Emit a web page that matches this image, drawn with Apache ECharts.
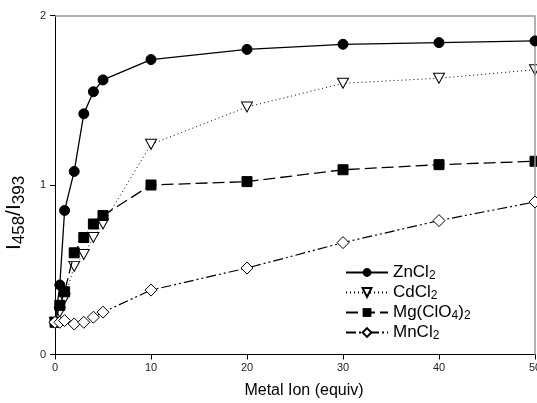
<!DOCTYPE html>
<html>
<head>
<meta charset="utf-8">
<script src="https://cdn.jsdelivr.net/npm/echarts@6/dist/echarts.min.js"></script>
<style>
  html, body { margin: 0; padding: 0; background: #fff; }
  #chart { width: 537px; height: 403px; }
</style>
</head>
<body>
<div id="chart"></div>
<script>
// metal ion equivalents
const equiv = [0, 0.5, 1, 2, 3, 4, 5, 10, 20, 30, 40, 50];
// I458/I393 ratios
const znCl2 = [0.19, 0.41, 0.85, 1.08, 1.42, 1.55, 1.62, 1.74, 1.80, 1.83, 1.84, 1.85];
const cdCl2 = [0.19, 0.25, 0.33, 0.52, 0.59, 0.69, 0.77, 1.24, 1.46, 1.60, 1.63, 1.68];
const mgClO4 = [0.19, 0.29, 0.37, 0.60, 0.69, 0.77, 0.82, 1.00, 1.02, 1.09, 1.12, 1.14];
const mnCl2 = [0.19, 0.19, 0.20, 0.18, 0.19, 0.22, 0.25, 0.38, 0.51, 0.66, 0.79, 0.90];
const xTicks = [0, 10, 20, 30, 40, 50];
const yTicks = [0, 1, 2];

const names = ['ZnCl2', 'CdCl2', 'Mg(ClO4)2', 'MnCl2'];
const legendLabels = {
    'ZnCl2': 'ZnCl{s|2}',
    'CdCl2': 'CdCl{s|2}',
    'Mg(ClO4)2': 'Mg(ClO{s|4}){s|2}',
    'MnCl2': 'MnCl{s|2}'
};

const pairs = (ys) => equiv.map((x, i) => [x, ys[i]]);

const font = 'Liberation Sans, Arial, sans-serif';

const chart = echarts.init(document.getElementById('chart'));

const option = {
    animation: false,
    backgroundColor: '#fff',
    grid: { left: 55, right: 2, top: 15.5, bottom: 48.5, outerBoundsMode: 'none', containLabel: false },
    xAxis: {
        type: 'value',
        min: 0, max: 50, interval: 10,
        name: 'Metal Ion (equiv)',
        nameLocation: 'middle',
        nameGap: 28,
        nameTextStyle: { fontFamily: font, fontSize: 16, color: '#000', padding: [0, 0, 0, 18] },
        axisLine: { onZero: false, lineStyle: { color: '#000', width: 1 } },
        axisTick: { show: true, length: 5, lineStyle: { color: '#000' } },
        axisLabel: { fontFamily: font, fontSize: 11, color: '#222', margin: 8,
            formatter: v => xTicks.includes(v) ? String(v) : '' },
        splitLine: { show: false }
    },
    yAxis: {
        type: 'value',
        min: 0, max: 2, interval: 1,
        name: '{a|I}{s|458}{a|/I}{s|393}',
        nameLocation: 'middle',
        nameGap: 27,
        nameTextStyle: {
            fontFamily: font, color: '#000',
            padding: [0, 56, 0, 0],
            rich: {
                a: { fontFamily: font, fontSize: 21, color: '#000' },
                s: { fontFamily: font, fontSize: 17, color: '#000', padding: [10, 0, 0, 0] }
            }
        },
        axisLine: { onZero: false, lineStyle: { color: '#000', width: 1 } },
        axisTick: { show: true, length: 5, lineStyle: { color: '#000' } },
        axisLabel: { fontFamily: font, fontSize: 11, color: '#222', margin: 9,
            formatter: v => yTicks.includes(v) ? String(v) : '' },
        splitLine: { show: false }
    },
    legend: {
        data: names,
        orient: 'vertical',
        left: 340,
        top: 259,
        itemWidth: 42,
        itemHeight: 11,
        itemGap: 2,
        formatter: n => legendLabels[n],
        textStyle: {
            fontFamily: font, fontSize: 17, color: '#000',
            rich: { s: { fontFamily: font, fontSize: 12, color: '#000', padding: [7, 0, 0, 0] } }
        }
    },
    series: [
        {
            name: names[0], type: 'line', data: pairs(znCl2),
            symbol: 'circle', symbolSize: 10,
            itemStyle: { color: '#000', borderColor: '#000' },
            lineStyle: { color: '#000', width: 1.3, type: 'solid' },
            z: 5
        },
        {
            name: names[1], type: 'line', data: pairs(cdCl2),
            symbol: 'triangle', symbolSize: [11, 10], symbolRotate: 180,
            itemStyle: { color: '#fff', borderColor: '#000', borderWidth: 1 },
            lineStyle: { color: '#000', width: 1, type: [1, 3] },
            z: 3
        },
        {
            name: names[2], type: 'line', data: pairs(mgClO4),
            symbol: 'rect', symbolSize: 10,
            itemStyle: { color: '#000', borderColor: '#000' },
            lineStyle: { color: '#000', width: 1.3, type: [12, 5] },
            z: 4
        },
        {
            name: names[3], type: 'line', data: pairs(mnCl2),
            symbol: 'diamond', symbolSize: [12, 12],
            itemStyle: { color: '#fff', borderColor: '#000', borderWidth: 1 },
            lineStyle: { color: '#000', width: 1.2, type: [10, 3, 2, 3, 2, 3] },
            z: 6
        },
        {
            // top and right frame lines
            type: 'line', silent: true, data: [],
            markLine: {
                silent: true, symbol: 'none', label: { show: false },
                lineStyle: { color: '#999', width: 1.5, type: 'solid' },
                data: [[{ coord: [0, 2] }, { coord: [50, 2] }], [{ coord: [50, 0] }, { coord: [50, 2] }]]
            }
        }
    ]
};

chart.setOption(option);
</script>
</body>
</html>
